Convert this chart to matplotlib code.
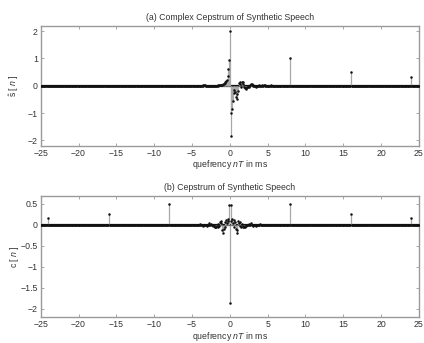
import numpy as np
import matplotlib.pyplot as plt

plt.rcParams['font.family'] = ['Liberation Sans', 'DejaVu Sans']
plt.rcParams['mathtext.fontset'] = 'custom'
plt.rcParams['mathtext.rm'] = 'Liberation Sans'
plt.rcParams['mathtext.it'] = 'Liberation Sans:italic'
plt.rcParams['font.size'] = 6

# quefrency grid, 0.1 ms per sample (10 kHz)
n_idx = np.arange(-250, 251)
t_ms = n_idx / 10.0

# (a) complex cepstrum: samples that stand out from zero (ms, value)
cc_t = [-3.5, -3.4, -3.3, -1.5, -1.4, -1.3, -1.2, -1.1, -1.0, -0.9, -0.8, -0.7,
        -0.6, -0.5, -0.4, -0.3, -0.2, -0.1, 0.0,
        0.1, 0.2, 0.3, 0.4, 0.5, 0.6, 0.7, 0.8, 0.9, 1.0, 1.1, 1.2, 1.3, 1.4,
        1.5, 1.6, 1.7, 1.8, 1.9, 2.0, 2.1, 2.2, 2.3, 2.4, 2.5, 2.7, 2.8, 2.9,
        3.0, 3.2, 3.5, 3.8, 4.2, 4.5, 4.6, 5.0, 5.5,
        8.0, 16.0, 24.0]
cc_v = [0.02, 0.03, 0.02, 0.01, 0.01, 0.02, 0.02, 0.03, 0.04, 0.05, 0.07, 0.09,
        0.12, 0.16, 0.22, 0.35, 0.6, 0.95, 2.0,
        -1.85, -1.0, -0.85, -0.55, -0.25, -0.15, -0.22, -0.4, -0.3, -0.5, -0.2,
        0.1, 0.15, 0.05, -0.05, 0.12, 0.05, 0.15, -0.05, -0.1, -0.12, -0.08,
        -0.05, -0.06, -0.03, 0.03, 0.08, 0.06, 0.03, -0.02, -0.03, 0.01, 0.02,
        0.03, 0.02, -0.02, 0.01,
        1.0, 0.5, 0.33]

# (b) real cepstrum: even sequence, one side given (ms, value)
rc_t = [0.1, 0.2, 0.3, 0.4, 0.5, 0.6, 0.7, 0.8, 0.9, 1.0, 1.1, 1.2, 1.3,
        1.4, 1.5, 1.6, 1.7, 1.8, 1.9, 2.0, 2.2, 2.5, 2.8, 3.0, 3.5, 4.0,
        8.0, 16.0, 24.0]
rc_v = [0.48, 0.1, 0.15, 0.05, 0.12, -0.05, 0.08, -0.1, -0.2, -0.12, 0.1,
        0.05, 0.08, -0.02, -0.05, 0.03, -0.03, -0.06, -0.04, -0.05, -0.03,
        0.02, 0.04, -0.02, -0.03, 0.01,
        0.5, 0.25, 0.17]
rc_zero = -1.85


def build(ts, vs):
    y = np.zeros_like(t_ms)
    for t, v in zip(ts, vs):
        y[np.argmin(np.abs(t_ms - t))] = v
    return y


s_hat = build(cc_t, cc_v)
c_real = build(rc_t, rc_v) + build([-t for t in rc_t], rc_v)
c_real[np.argmin(np.abs(t_ms))] = rc_zero

fig = plt.figure(figsize=(4.24, 3.43), dpi=100)
ax1 = fig.add_axes([0.096, 0.575, 0.892, 0.350])
ax2 = fig.add_axes([0.096, 0.075, 0.892, 0.355])

frame_col = '#9a9a9a'


def draw(ax, y, ylim, yticks, ylabel, title):
    ax.axhline(0, color='#111111', lw=1.6, zorder=1)
    ax.vlines(t_ms, 0, y, color='#a8a8a8', lw=0.9, zorder=2)
    ax.plot(t_ms, y, 'o', color='#111111', ms=1.8, mew=0, zorder=3)
    ax.set_xlim(-25, 25)
    ax.set_ylim(*ylim)
    ax.set_xticks(np.arange(-25, 26, 5))
    ax.set_yticks(yticks)
    ax.set_yticklabels([f'{v:g}'.replace('-', '\u2212') for v in yticks])
    ax.tick_params(direction='in', length=2.5, width=0.6, color=frame_col,
                   top=True, right=True, labelsize=6.3, pad=2, labelcolor='#333333')
    for sp in ax.spines.values():
        sp.set_color(frame_col)
        sp.set_linewidth(1.0)
    ax.set_xlabel(r'quefrency $nT$ in ms', labelpad=0.5, color='#333333', fontsize=6.3)
    ax.set_ylabel(ylabel, color='#333333', fontsize=6.3)
    ax.yaxis.set_label_coords(-0.052, 0.5)
    ax.set_title(title, pad=4, fontsize=6.3, color='#333333')


draw(ax1, s_hat, (-2.2, 2.2), [-2, -1, 0, 1, 2],
     r'$\hat{\mathrm{s}}$ [ $n$ ]', '(a) Complex Cepstrum of Synthetic Speech')
draw(ax2, c_real, (-2.2, 0.7), [-2, -1.5, -1, -0.5, 0, 0.5],
     r'c [ $n$ ]', '(b) Cepstrum of Synthetic Speech')

plt.savefig('out.png', dpi=100)
